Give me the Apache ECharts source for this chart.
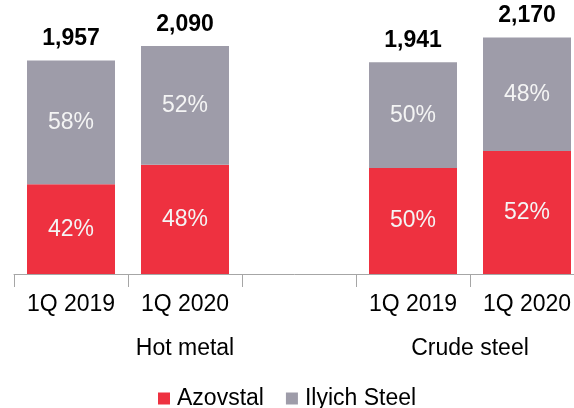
<!DOCTYPE html>
<html>
<head>
<meta charset="utf-8">
<script src="https://cdn.jsdelivr.net/npm/echarts@6/dist/echarts.min.js"></script>
<style>
  html, body { margin: 0; padding: 0; background: #fff; }
  #chart { width: 574px; height: 408px; }
</style>
</head>
<body>
<div id="chart"></div>
<script>
// categories (third slot is the empty gap between the two groups)
const categories = ['1Q 2019', '1Q 2020', '', '1Q 2019', '1Q 2020']
// group names sit on a finer, boundary-aligned axis below
const groupLabels = ['', '', '', 'Hot metal', '', '', '', '', 'Crude steel', '', '']
// kt
const totals = [1957, 2090, null, 1941, 2170]
const azovstal = [822, 1003, null, 971, 1128]
const ilyich = [1135, 1087, null, 970, 1042]
const azovstalPct = ['42%', '48%', '', '50%', '52%']
const ilyichPct = ['58%', '52%', '', '50%', '48%']

const RED = '#ee3140'
const GREY = '#9e9ca9'
const FONT = '"Liberation Sans", Arial, sans-serif'
const FS = 23

const chart = echarts.init(document.getElementById('chart'))

const option = {
  animation: false,
  textStyle: { fontFamily: FONT },
  // plot runs past the right edge, the last slot is cut like in the original
  grid: { left: 14, right: -10, top: 1.4, bottom: 134, outerBoundsMode: 'none', containLabel: false },
  legend: {
    left: 153,
    top: 382,
    icon: 'rect',
    itemWidth: 12,
    itemHeight: 12,
    itemGap: 22,
    selectedMode: false,
    textStyle: { fontSize: FS, color: '#000', fontFamily: FONT, padding: [0, 0, 0, 2] },
    data: ['Azovstal', 'Ilyich Steel'],
  },
  xAxis: [
    {
      type: 'category',
      data: categories,
      axisLine: { lineStyle: { color: '#a6a6a6', width: 1 } },
      axisTick: { show: true, length: 13, lineStyle: { color: '#a6a6a6' } },
      axisLabel: { fontSize: FS, color: '#000', margin: 19, interval: 0, fontFamily: FONT },
    },
    {
      type: 'category',
      position: 'bottom',
      boundaryGap: false,
      data: groupLabels,
      axisLine: { show: false },
      axisTick: { show: false },
      axisLabel: { fontSize: FS, color: '#000', margin: 63, interval: 0, fontFamily: FONT },
    },
  ],
  yAxis: {
    type: 'value',
    min: 0,
    max: 2500,
    show: false,
    splitLine: { show: false },
  },
  series: [
    {
      name: 'Azovstal',
      type: 'bar',
      stack: 'total',
      barWidth: 88,
      itemStyle: { color: RED },
      label: {
        show: true,
        position: 'inside',
        fontSize: FS,
        color: '#f4f4f4',
        fontFamily: FONT,
        formatter: (p) => azovstalPct[p.dataIndex],
      },
      data: azovstal,
    },
    {
      name: 'Ilyich Steel',
      type: 'bar',
      stack: 'total',
      barWidth: 88,
      itemStyle: { color: GREY },
      label: {
        show: true,
        position: 'inside',
        fontSize: FS,
        color: '#f4f4f4',
        fontFamily: FONT,
        formatter: (p) => ilyichPct[p.dataIndex],
      },
      data: ilyich,
    },
    {
      // totals above each stack
      name: 'total',
      type: 'bar',
      stack: 'total',
      barWidth: 88,
      itemStyle: { color: 'transparent' },
      label: {
        show: true,
        position: 'top',
        distance: 10,
        fontSize: FS,
        fontWeight: 'bold',
        color: '#000',
        fontFamily: FONT,
        formatter: (p) => (totals[p.dataIndex] ? totals[p.dataIndex].toLocaleString('en-US') : ''),
      },
      data: totals.map((t) => (t ? 0 : null)),
    },
  ],
}

chart.setOption(option)
</script>
</body>
</html>
